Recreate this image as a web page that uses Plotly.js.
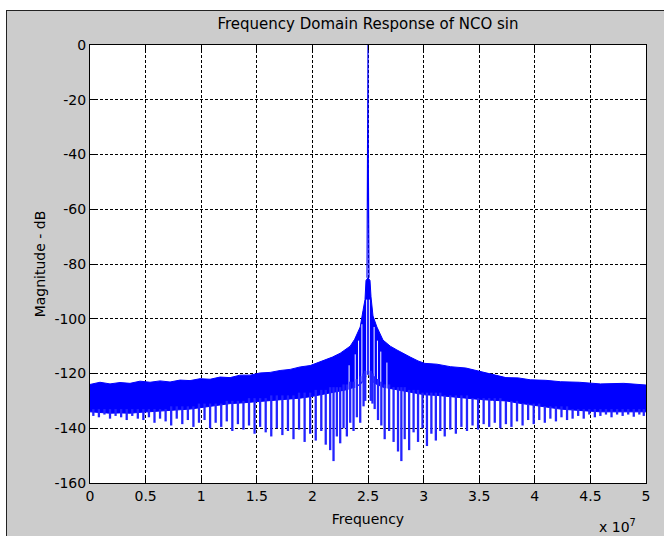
<!DOCTYPE html>
<html><head><meta charset="utf-8">
<script src="https://cdn.plot.ly/plotly-3.0.1.min.js"></script>
<style>
html,body{margin:0;padding:0;background:#fff;width:664px;height:536px;overflow:hidden;}
#frame{position:absolute;left:6px;top:10px;width:658px;height:526px;background:#cccccc;border-left:1px solid #222;border-top:1px solid #222;box-sizing:border-box;}
#chart{position:absolute;left:0;top:0;width:657px;height:525px;}
</style></head>
<body><div id="frame"><div id="chart"></div></div>
<script>
// Frequency in units of 10^7 Hz, magnitude in dB
const xTicks = [0, 0.5, 1, 1.5, 2, 2.5, 3, 3.5, 4, 4.5, 5];
const xTickText = ['0','0.5','1','1.5','2','2.5','3','3.5','4','4.5','5'];
const yTicks = [0, -20, -40, -60, -80, -100, -120, -140, -160];
const yTickText = ['0','-20','-40','-60','-80','-100','-120','-140','-160'];

// Noise-floor band: upper and lower edge of the dense region
const bandFreq = [0, 0.09, 0.18, 0.27, 0.36, 0.45, 0.54, 0.63, 0.72, 0.81, 0.90, 0.99, 1.08, 1.17, 1.26, 1.35, 1.44, 1.53, 1.62, 1.71, 1.80, 1.89, 1.98, 2.05, 2.11, 2.18, 2.25, 2.30, 2.34, 2.38, 2.43, 2.455, 2.473, 2.482, 2.50, 2.518, 2.527, 2.545, 2.58, 2.635, 2.70, 2.76, 2.82, 2.88, 2.95, 3.01, 3.12, 3.24, 3.38, 3.51, 3.62, 3.74, 3.85, 3.96, 4.10, 4.23, 4.40, 4.59, 4.80, 5.0];
const bandHigh = [-124, -123.2, -123.8, -123.3, -123.6, -122.8, -123.2, -122.7, -123.1, -122.4, -122.6, -121.9, -122.1, -121.3, -121.5, -120.6, -120.6, -119.8, -119.6, -118.9, -118.5, -117.6, -117.1, -116.0, -115.1, -114.0, -112.6, -111.2, -110.0, -107.5, -103, -97, -93, -86, -85, -86, -92, -99, -103, -107.8, -110, -111.4, -112.8, -114, -115.4, -116.3, -116.6, -117.5, -118.0, -119.3, -120.2, -121.5, -121.6, -122.3, -122.5, -123, -123.2, -123.8, -123.6, -124.2];
const bandLow = [-134, -134.3, -134.5, -134.4, -134.5, -134.2, -134, -133.8, -133.5, -133.3, -133, -132.5, -132, -131.5, -131, -130.8, -130.5, -130.3, -130, -129.5, -129.2, -129, -128.5, -128, -127.5, -127, -126.5, -126, -125.5, -125, -124, -123, -122, -121, -120, -121, -122, -123, -124, -125, -125.5, -126, -126.5, -127, -127.5, -127.8, -128, -128.5, -129, -129.5, -129.8, -130, -130.8, -131.5, -132.3, -133, -133.5, -134, -134, -134];

// Deep notches hanging below the band
const spikeFreq = [0.03, 0.08, 0.13, 0.18, 0.23, 0.28, 0.33, 0.38, 0.43, 0.48, 0.53, 0.58, 0.63, 0.68, 0.73, 0.78, 0.83, 0.88, 0.93, 0.98, 1.03, 1.08, 1.13, 1.18, 1.23, 1.28, 1.33, 1.38, 1.43, 1.48, 1.53, 1.58, 1.63, 1.68, 1.73, 1.78, 1.83, 1.88, 1.93, 1.98, 2.03, 2.08, 2.12, 2.16, 2.19, 2.22, 2.25, 2.28, 2.31, 2.34, 2.37, 2.40, 2.43, 2.46, 2.475, 2.525, 2.54, 2.56, 2.59, 2.62, 2.65, 2.69, 2.73, 2.77, 2.80, 2.83, 2.87, 2.91, 2.95, 2.99, 3.03, 3.07, 3.11, 3.15, 3.19, 3.24, 3.29, 3.34, 3.39, 3.44, 3.49, 3.54, 3.59, 3.64, 3.69, 3.74, 3.79, 3.84, 3.89, 3.94, 3.99, 4.04, 4.09, 4.14, 4.19, 4.24, 4.29, 4.34, 4.39, 4.44, 4.49, 4.54, 4.59, 4.64, 4.69, 4.74, 4.79, 4.84, 4.89, 4.94, 4.98];
const spikeTop = [-133, -133, -133, -133, -133, -133, -133, -133, -133, -133, -133, -133, -133, -133, -132, -132, -132, -132, -132, -131, -131, -131, -131, -131, -130, -130, -130, -130, -129, -129, -129, -129, -128, -128, -128, -128, -128, -127, -127, -127, -126, -126, -126, -125, -125, -125, -125, -124, -124, -123, -123, -122, -121, -120, -119, -119, -120, -121, -122, -123, -124, -124, -125, -125, -125, -125, -126, -126, -126, -127, -127, -127, -127, -127, -128, -128, -128, -128, -128, -129, -129, -129, -129, -129, -129, -130, -130, -130, -131, -131, -131, -131, -132, -132, -132, -132, -132, -133, -133, -133, -133, -133, -133, -133, -133, -133, -133, -133, -133, -133, -133];
const spikeBottom = [-135.5, -136, -135, -136.5, -135.5, -136, -137, -135.5, -136.5, -137, -136, -138, -136.5, -137.5, -139, -136.5, -138.5, -137, -139.5, -138, -137, -140, -138, -139.5, -137.5, -141, -138.5, -140.5, -139, -142, -139.5, -141.5, -143, -140, -142.5, -141, -144, -140.5, -145, -142, -144.5, -141, -146, -148, -152, -143, -145.5, -140, -143, -138, -141, -136, -138, -132, -130, -130, -131, -133, -137, -139, -144, -141, -145, -148.5, -152, -144, -148, -141.5, -145, -140, -146.5, -142, -144.5, -141, -143, -140.5, -142, -139.5, -141, -139, -140.5, -138.5, -139.5, -138, -140, -138.5, -139.5, -137.5, -139, -137, -138.5, -137, -138, -136.5, -137.5, -136, -137, -136.5, -135.5, -136.5, -135, -136, -135.5, -135, -136, -135, -135.5, -135, -135.8, -135, -135.5];

// Narrow gaps between bins that cut up into the band near the carrier
const gapFreq = [2.33, 2.385, 2.415, 2.445, 2.488, 2.512, 2.555, 2.585, 2.615, 2.67];
const gapTop = [-117, -113, -108, -102, -93, -93, -103, -108, -112, -116];
const gapBottom = [-126, -125, -124, -123, -121, -121, -123, -124, -125, -126];

// Carrier peak at 2.5e7 Hz
const peakFreq = [2.491, 2.499, 2.5, 2.501, 2.509];
const peakDb = [-85, -30, 0, -30, -85];

const BLUE = '#0000ff';
const segX = (f, a, b) => { const X = [], Y = []; f.forEach((v, i) => { X.push(v, v, null); Y.push(a[i], b[i], null); }); return [X, Y]; };
const [spikeX, spikeY] = segX(spikeFreq, spikeTop, spikeBottom);
const [gapX, gapY] = segX(gapFreq, gapTop, gapBottom);

const traces = [
  {x: bandFreq, y: bandLow, mode: 'lines', line: {color: BLUE, width: 1}, hoverinfo: 'skip', showlegend: false},
  {x: bandFreq, y: bandHigh, mode: 'lines', fill: 'tonexty', fillcolor: BLUE, line: {color: BLUE, width: 1}, hoverinfo: 'skip', showlegend: false},
  {x: gapX, y: gapY, mode: 'lines', line: {color: '#ffffff', width: 1}, hoverinfo: 'skip', showlegend: false},
  {x: spikeX, y: spikeY, mode: 'lines', line: {color: 'rgb(35,35,255)', width: 2.3}, hoverinfo: 'skip', showlegend: false},
  {x: peakFreq, y: peakDb, mode: 'lines', line: {color: BLUE, width: 1.2}, hoverinfo: 'skip', showlegend: false}
];

const FONT = 'DejaVu Sans, Liberation Sans, Arial, sans-serif';
const axisCommon = {
  showgrid: true, gridcolor: '#000', gridwidth: 1, griddash: '3px,2px',
  ticks: 'inside', ticklen: 5, tickcolor: '#000', tickwidth: 1,
  showline: true, linecolor: '#000', linewidth: 1, mirror: 'ticks',
  zeroline: false, tickfont: {family: FONT, size: 14, color: '#000'}
};

const layout = {
  width: 657, height: 525,
  margin: {l: 83, r: 18, t: 34, b: 53},
  paper_bgcolor: '#cccccc', plot_bgcolor: '#ffffff',
  font: {family: FONT, size: 14, color: '#000'},
  title: {text: 'Frequency Domain Response of NCO sin', font: {family: FONT, size: 15, color: '#000'},
          xref: 'paper', x: 0.5, xanchor: 'center', yref: 'container', y: 0.975, yanchor: 'middle'},
  xaxis: Object.assign({}, axisCommon, {range: [0, 5], tickvals: xTicks, ticktext: xTickText,
          title: {text: 'Frequency', font: {family: FONT, size: 14, color: '#000'}, standoff: 11}}),
  yaxis: Object.assign({}, axisCommon, {range: [-160, 0], tickvals: yTicks, ticktext: yTickText,
          title: {text: 'Magnitude - dB', font: {family: FONT, size: 14, color: '#000'}, standoff: 5}}),
  annotations: [{xref: 'paper', yref: 'paper', x: 1, y: 0, xanchor: 'right', yanchor: 'top',
                 xshift: -8, yshift: -32, showarrow: false,
                 text: 'x 10<sup>7</sup>', font: {family: FONT, size: 14, color: '#000'}}],
  showlegend: false
};

Plotly.newPlot('chart', traces, layout, {staticPlot: true, displayModeBar: false});
</script>
</body></html>
